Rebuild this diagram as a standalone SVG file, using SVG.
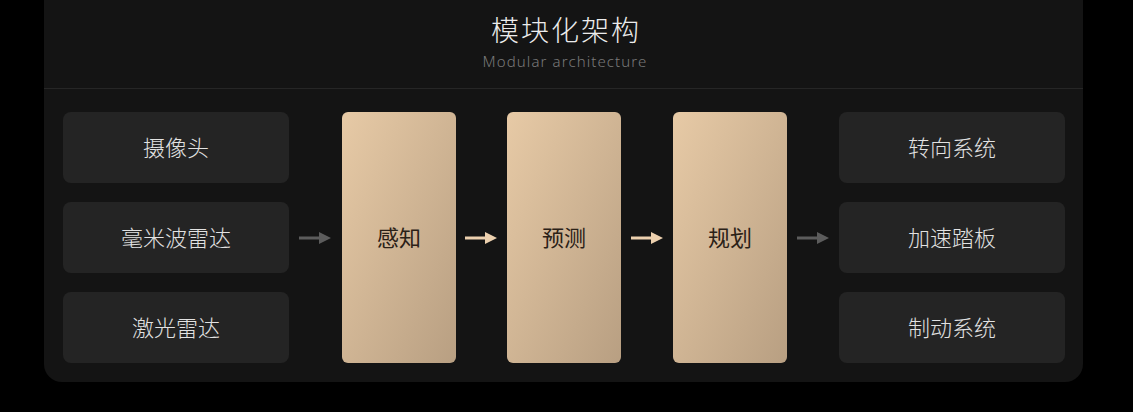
<svg xmlns="http://www.w3.org/2000/svg" width="1133" height="412" viewBox="0 0 1133 412">
<defs>
<linearGradient id="gold" x1="0" y1="0" x2="1" y2="1">
<stop offset="0" stop-color="#e7caa6"/>
<stop offset="1" stop-color="#b89f82"/>
</linearGradient>
<marker id="headGray" viewBox="0 0 12 12" refX="0" refY="6" markerWidth="12" markerHeight="12" markerUnits="userSpaceOnUse" orient="auto">
<path d="M0,0 L12,6 L0,12 Z" fill="#5c5c5c"/>
</marker>
<marker id="headGold" viewBox="0 0 12 12" refX="0" refY="6" markerWidth="12" markerHeight="12" markerUnits="userSpaceOnUse" orient="auto">
<path d="M0,0 L12,6 L0,12 Z" fill="#ecd0ae"/>
</marker>
</defs>
<style>
.io rect{fill:#242424}
.io text{fill:#e2e2e2;font-family:"Noto Sans CJK SC","Noto Sans",sans-serif;font-size:22px;font-weight:300;text-anchor:middle}
.mid text{fill:#2b2117;font-family:"Noto Sans CJK SC","Noto Sans",sans-serif;font-size:22px;font-weight:400;text-anchor:middle}
.gray{stroke:#5c5c5c;stroke-width:3;fill:none}
.goldl{stroke:#ecd0ae;stroke-width:3;fill:none}
</style>
<rect width="1133" height="412" fill="#000"/>
<rect x="44" y="-20" width="1039" height="402" rx="18" fill="#141414"/>
<line x1="44" y1="88.5" x2="1083" y2="88.5" stroke="#262626" stroke-width="1"/>
<text x="566" y="41" fill="#ececec" font-family="Noto Sans CJK SC, Noto Sans, sans-serif" font-size="28" font-weight="300" text-anchor="middle" letter-spacing="2">模块化架构</text>
<text x="565" y="67" fill="#7a7a7a" font-family="Noto Sans, sans-serif" font-size="15" font-weight="300" text-anchor="middle" letter-spacing="1.1">Modular architecture</text>

<g id="camera" class="io"><rect x="63" y="112" width="226" height="71" rx="8"/><text x="176" y="156">摄像头</text></g>
<g id="radar" class="io"><rect x="63" y="202" width="226" height="71" rx="8"/><text x="176" y="246">毫米波雷达</text></g>
<g id="lidar" class="io"><rect x="63" y="292" width="226" height="71" rx="8"/><text x="176" y="336">激光雷达</text></g>

<g id="perception" class="mid"><rect x="342" y="112" width="114" height="251" rx="6" fill="url(#gold)"/><text x="399" y="246">感知</text></g>
<g id="prediction" class="mid"><rect x="507" y="112" width="114" height="251" rx="6" fill="url(#gold)"/><text x="564" y="246">预测</text></g>
<g id="planning" class="mid"><rect x="673" y="112" width="114" height="251" rx="6" fill="url(#gold)"/><text x="730" y="246">规划</text></g>

<g id="steering" class="io"><rect x="839" y="112" width="226" height="71" rx="8"/><text x="952" y="156">转向系统</text></g>
<g id="accel" class="io"><rect x="839" y="202" width="226" height="71" rx="8"/><text x="952" y="246">加速踏板</text></g>
<g id="brake" class="io"><rect x="839" y="292" width="226" height="71" rx="8"/><text x="952" y="336">制动系统</text></g>

<g id="connectors">
<line class="gray" x1="299" y1="238" x2="319" y2="238" marker-end="url(#headGray)"/>
<line class="goldl" x1="465" y1="238" x2="485" y2="238" marker-end="url(#headGold)"/>
<line class="goldl" x1="631" y1="238" x2="651" y2="238" marker-end="url(#headGold)"/>
<line class="gray" x1="797" y1="238" x2="817" y2="238" marker-end="url(#headGray)"/>
</g>
</svg>
